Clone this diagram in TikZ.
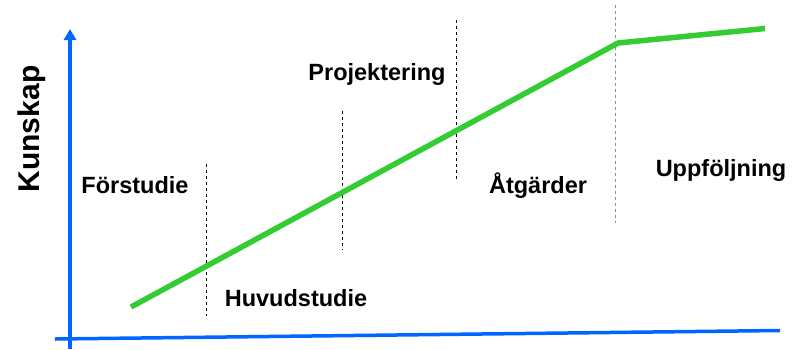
\documentclass[tikz,border=0pt]{standalone}
\usepackage{fontspec}
\setmainfont{Liberation Sans}
\usetikzlibrary{arrows.meta}
\definecolor{axisblue}{HTML}{0066FF}
\definecolor{curvegreen}{HTML}{33CC33}
\begin{document}
\begin{tikzpicture}[x=1pt,y=-1pt,
  axisline/.style={draw=axisblue,line width=3.5pt},
  curve/.style={draw=curvegreen,line width=5.5pt,line join=miter},
  divider/.style={draw=black,line width=0.8pt,dash pattern=on 3pt off 3pt},
  divgray/.style={draw=black!45,line width=0.9pt,dash pattern=on 3pt off 3pt},
  phase/.style={font=\fontsize{23.5}{26}\selectfont\bfseries,inner sep=0pt,anchor=base}]
\useasboundingbox (0,0) rectangle (792,349);
% axes
\coordinate (yb) at (70,349);
\coordinate (yt) at (70,29);
\coordinate (xl) at (55,339);
\coordinate (xr) at (780,330.5);
\draw[axisline] (xl) -- (xr);
\draw[axisline,-{Triangle[length=11pt,width=12pt]}] (yb) -- (yt);
% dividers
\coordinate (d1t) at (206,164); \coordinate (d1b) at (206,316);
\coordinate (d2t) at (342,111); \coordinate (d2b) at (342,250);
\coordinate (d3t) at (456,20);  \coordinate (d3b) at (456,180);
\coordinate (d4t) at (615,5);   \coordinate (d4b) at (615,223);
\draw[divider] (d1t) -- (d1b);
\draw[divider] (d2t) -- (d2b);
\draw[divider] (d3t) -- (d3b);
\draw[divgray] (d4t) -- (d4b);
% curve
\coordinate (c0) at (131,307);
\coordinate (c1) at (618,43);
\coordinate (c2) at (765,28.5);
\draw[curve] (c0) -- (c1) -- (c2);
% labels
\node[phase] (forstudie) at (135,193) {Förstudie};
\node[phase] (huvud) at (296,306) {Huvudstudie};
\node[phase] (proj) at (377,80) {Projektering};
\node[phase] (atg) at (538,193) {Åtgärder};
\node[phase] (uppf) at (721,176) {Uppföljning};
\node[font=\fontsize{30}{34}\selectfont\bfseries,inner sep=0pt,anchor=base,rotate=90] (kunskap) at (39,129) {Kunskap};
\end{tikzpicture}
\end{document}
